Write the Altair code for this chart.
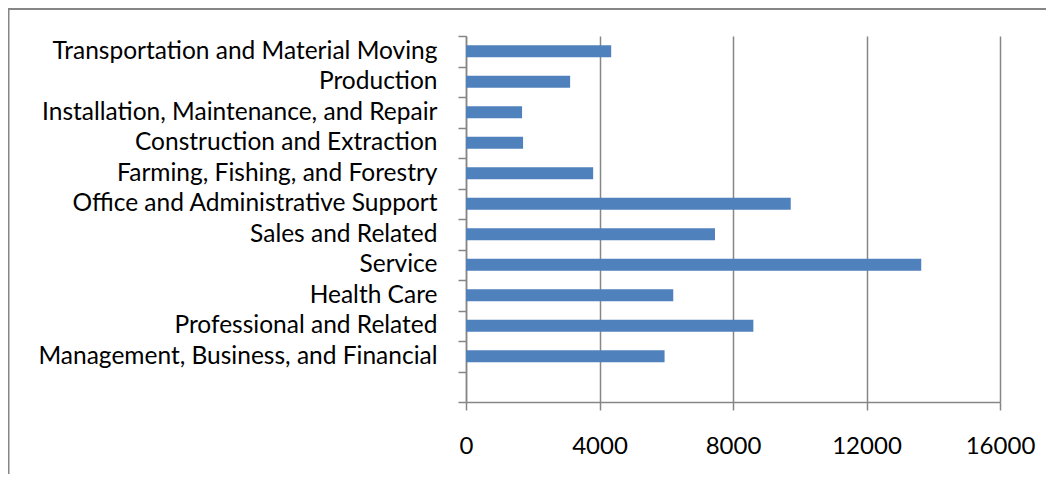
import altair as alt
import pandas as pd

# Categories listed top to bottom, as in the chart
categories = [
    "Transportation and Material Moving",
    "Production",
    "Installation, Maintenance, and Repair",
    "Construction and Extraction",
    "Farming, Fishing, and Forestry",
    "Office and Administrative Support",
    "Sales and Related",
    "Service",
    "Health Care",
    "Professional and Related",
    "Management, Business, and Financial",
]
openings = [4350, 3120, 1680, 1710, 3810, 9730, 7460, 13640, 6210, 8610, 5950]
blank_row = " "
x_ticks = [0, 4000, 8000, 12000, 16000]

domain = categories + [blank_row]
df = pd.DataFrame({"occupation": categories, "openings": openings})

W, H = 534, 366
PAD = {"left": 458, "top": 28, "right": 46, "bottom": 72}
GRAY = "#868686"
FONT = "Lato"

bars = alt.Chart(df).mark_bar(color="#4F81BD", height=12).encode(
    x=alt.X(
        "openings:Q",
        scale=alt.Scale(domain=[0, 16000], nice=False, zero=True),
        axis=alt.Axis(
            values=x_ticks, title=None, format="d", grid=True,
            gridColor=GRAY, gridWidth=1.5, gridOpacity=1,
            domainColor=GRAY, domainWidth=1.5, tickColor=GRAY, tickWidth=1.5,
            tickSize=8, labelPadding=24, labelFont=FONT, labelFontSize=24,
            labelColor="#000000", labelFlush=False, labelOverlap=False,
        ),
    ),
    y=alt.Y(
        "occupation:N",
        sort=domain,
        scale=alt.Scale(domain=domain, paddingInner=0, paddingOuter=0),
        axis=alt.Axis(
            title=None, tickBand="extent", grid=False,
            domainColor=GRAY, domainWidth=1.5, tickColor=GRAY, tickWidth=1.5,
            tickSize=8, labelPadding=21, labelFont=FONT, labelFontSize=24.5,
            labelColor="#000000", labelLimit=600,
        ),
    ),
)

frame_df = pd.DataFrame({"k": [0]})
left_border = alt.Chart(frame_df).mark_rule(color=GRAY, strokeWidth=1.5).encode(
    x=alt.value(-PAD["left"] + 0.75),
    y=alt.value(-PAD["top"]),
    y2=alt.value(H + PAD["bottom"]),
)
top_border = alt.Chart(frame_df).mark_rule(color=GRAY, strokeWidth=2).encode(
    x=alt.value(-PAD["left"]),
    x2=alt.value(W + PAD["right"]),
    y=alt.value(-PAD["top"] + 1),
)

chart = alt.layer(bars, left_border, top_border).properties(
    width=W, height=H, padding=PAD,
    autosize=alt.AutoSizeParams(type="none"),
    background="#ffffff",
).configure_view(stroke=None)

chart.save("out.html", embed_options={"renderer": "svg", "actions": False})
